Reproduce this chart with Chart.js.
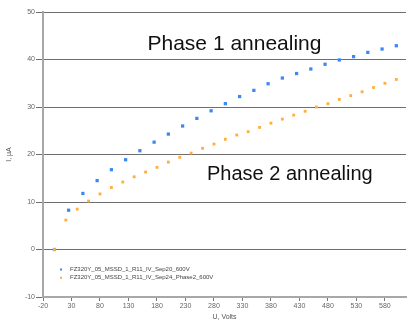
<!DOCTYPE html>
<html>
<head>
<meta charset="utf-8">
<script src="https://cdn.jsdelivr.net/npm/chart.js@4/dist/chart.umd.min.js"></script>
<style>
  html, body { margin: 0; padding: 0; background: #fff; }
  #wrap { width: 410px; height: 321px; }
</style>
</head>
<body>
<div id="wrap"><canvas id="c" width="410" height="321"></canvas></div>
<script>
// Series names
const seriesNames = [
  "FZ320Y_05_MSSD_1_R11_IV_Sep20_600V",
  "FZ320Y_05_MSSD_1_R11_IV_Sep24_Phase2_600V"
];

// Sep20 sweep: bias voltage (V) and leakage current (µA)
const voltsSep20 = [0, 25, 50, 75, 100, 125, 150, 175, 200, 225, 250, 275, 300,
  325, 350, 375, 400, 425, 450, 475, 500, 525, 550, 575, 600];
const currentSep20 = [0, 8.27, 11.8, 14.5, 16.8, 18.9, 20.8, 22.6, 24.3, 26.0, 27.6, 29.2, 30.7,
  32.2, 33.5, 34.9, 36.1, 37.05, 38.0, 39.0, 39.9, 40.6, 41.5, 42.2, 42.9];

// Sep24 (phase 2) sweep
const voltsSep24 = [0, 20, 40, 60, 80, 100, 120, 140, 160, 180, 200, 220, 240, 260, 280, 300,
  320, 340, 360, 380, 400, 420, 440, 460, 480, 500, 520, 540, 560, 580, 600];
const currentSep24 = [0, 6.2, 8.5, 10.2, 11.7, 13.05, 14.2, 15.3, 16.3, 17.3, 18.4, 19.4, 20.3, 21.3, 22.2, 23.2,
  24.1, 24.8, 25.7, 26.6, 27.45, 28.3, 29.1, 30.0, 30.7, 31.6, 32.4, 33.2, 34.1, 35.0, 35.8];

// Axis tick labels
const xTickValues = [-20, 30, 80, 130, 180, 230, 280, 330, 380, 430, 480, 530, 580];
const yTickValues = [-10, 0, 10, 20, 30, 40, 50];

// Annotation captions
const captions = ["Phase 1 annealing", "Phase 2 annealing"];

const colors = ["#3b87f5", "#ffae3d"];
const FONT = "'Liberation Sans', Arial, sans-serif";

const toPoints = (xs, ys) => xs.map((x, i) => ({ x, y: ys[i] }));

// Captions and the in-plot legend
const overlayPlugin = {
  id: 'overlay',
  afterDatasetsDraw(chart) {
    const { ctx, chartArea: a } = chart;
    ctx.save();
    ctx.fillStyle = '#111';
    ctx.textBaseline = 'alphabetic';
    ctx.textAlign = 'left';
    ctx.font = `21px ${FONT}`;
    ctx.fillText(captions[0], a.left + 104.5, a.top + 38);
    ctx.font = `20px ${FONT}`;
    ctx.fillText(captions[1], a.left + 164, a.top + 168);

    // legend
    ctx.font = `6px ${FONT}`;
    ctx.textBaseline = 'middle';
    seriesNames.forEach((name, i) => {
      const y = a.bottom - 27.5 + i * 8.3;
      ctx.fillStyle = colors[i];
      ctx.fillRect(a.left + 17, y - 1, 2, 2);
      ctx.fillStyle = '#444';
      ctx.fillText(name, a.left + 27, y);
    });
    ctx.restore();
  }
};

new Chart(document.getElementById('c'), {
  type: 'scatter',
  data: {
    datasets: [
      {
        label: seriesNames[0],
        data: toPoints(voltsSep20, currentSep20),
        backgroundColor: colors[0],
        borderWidth: 0,
        pointStyle: 'rect',
        pointRadius: 2.3,
        order: 1
      },
      {
        label: seriesNames[1],
        data: toPoints(voltsSep24, currentSep24),
        backgroundColor: colors[1],
        borderWidth: 0,
        pointStyle: 'rect',
        pointRadius: 2.0,
        order: 0
      }
    ]
  },
  options: {
    responsive: false,
    animation: false,
    devicePixelRatio: 1,
    layout: { padding: { top: 12, right: 0, left: 0, bottom: 0 } },
    plugins: {
      legend: { display: false },
      tooltip: { enabled: false }
    },
    scales: {
      x: {
        type: 'linear',
        min: -20,
        max: 617,
        afterBuildTicks(scale) { scale.ticks = xTickValues.map(v => ({ value: v })); },
        afterFit(scale) { scale.height = 24; },
        ticks: {
          font: { family: FONT, size: 7 },
          color: '#666',
          padding: 1,
          maxRotation: 0,
          autoSkip: false
        },
        grid: {
          drawOnChartArea: false,
          drawTicks: true,
          tickLength: 4,
          color: '#777'
        },
        border: { color: '#a8a8a8', width: 2 },
        title: {
          display: true,
          text: 'U, Volts',
          font: { family: FONT, size: 7, lineHeight: 1 },
          color: '#555',
          padding: { top: 0, bottom: 0 }
        }
      },
      y: {
        type: 'linear',
        min: -10,
        max: 50,
        afterBuildTicks(scale) { scale.ticks = yTickValues.map(v => ({ value: v })); },
        afterFit(scale) { scale.width = 43; },
        ticks: {
          font: { family: FONT, size: 7 },
          color: '#666',
          padding: 1
        },
        grid: {
          color: '#6e6e6e',
          lineWidth: 1,
          tickLength: 7
        },
        border: { color: '#a8a8a8', width: 2 },
        title: {
          display: true,
          text: 'I, µA',
          font: { family: FONT, size: 7, lineHeight: 1 },
          color: '#555',
          padding: { top: 6, bottom: 0 }
        }
      }
    }
  },
  plugins: [overlayPlugin]
});
</script>
</body>
</html>
